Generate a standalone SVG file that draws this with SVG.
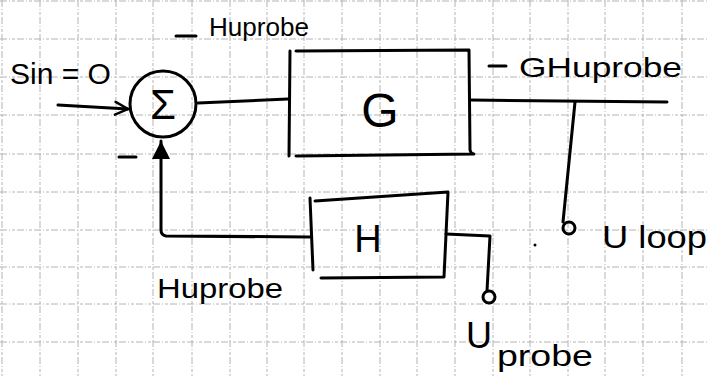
<svg xmlns="http://www.w3.org/2000/svg" width="709" height="376" viewBox="0 0 709 376">
<style>
.grid line{stroke:#b4b4b4;stroke-width:1;stroke-dasharray:7 2 1 2 3 2}
.ink{fill:none;stroke:#000;stroke-width:3;stroke-linecap:round;stroke-linejoin:round}
.txt{font-family:"Liberation Sans",Arial,sans-serif;fill:#000}
</style>
<defs>
<marker id="open" viewBox="0 0 20 20" refX="18" refY="10" markerWidth="16" markerHeight="16" markerUnits="userSpaceOnUse" orient="auto">
<path d="M2,2 L18,10 L2,18" fill="none" stroke="#000" stroke-width="3" stroke-linecap="round"/>
</marker>
<marker id="solid" viewBox="0 0 20 20" refX="18" refY="10" markerWidth="20" markerHeight="20" markerUnits="userSpaceOnUse" orient="auto">
<path d="M0,1 L18,10 L0,19 Z" fill="#000"/>
</marker>
</defs>
<rect width="709" height="376" fill="#fff"/>
<g class="grid">
<line x1="2" y1="0" x2="2" y2="376"/><line x1="40" y1="0" x2="40" y2="376"/><line x1="78" y1="0" x2="78" y2="376"/><line x1="116" y1="0" x2="116" y2="376"/><line x1="153" y1="0" x2="153" y2="376"/><line x1="192" y1="0" x2="192" y2="376"/><line x1="230" y1="0" x2="230" y2="376"/><line x1="267" y1="0" x2="267" y2="376"/><line x1="304" y1="0" x2="304" y2="376"/><line x1="342" y1="0" x2="342" y2="376"/><line x1="380" y1="0" x2="380" y2="376"/><line x1="417" y1="0" x2="417" y2="376"/><line x1="455" y1="0" x2="455" y2="376"/><line x1="493" y1="0" x2="493" y2="376"/><line x1="530" y1="0" x2="530" y2="376"/><line x1="568" y1="0" x2="568" y2="376"/><line x1="605" y1="0" x2="605" y2="376"/><line x1="643" y1="0" x2="643" y2="376"/><line x1="682" y1="0" x2="682" y2="376"/>
<line x1="0" y1="1" x2="709" y2="1"/><line x1="0" y1="39" x2="709" y2="39"/><line x1="0" y1="77" x2="709" y2="77"/><line x1="0" y1="115" x2="709" y2="115"/><line x1="0" y1="154" x2="709" y2="154"/><line x1="0" y1="192" x2="709" y2="192"/><line x1="0" y1="230" x2="709" y2="230"/><line x1="0" y1="267" x2="709" y2="267"/><line x1="0" y1="304" x2="709" y2="304"/><line x1="0" y1="342" x2="709" y2="342"/>
</g>
<g id="connectors">
<path class="ink" d="M58,105 L128,109" marker-end="url(#open)"/>
<path class="ink" d="M310,237 L166,236 Q161,235 161,230 L161,141" marker-end="url(#solid)"/>
<path class="ink" d="M198,103 L288,99"/>
<path class="ink" d="M471,100 L667,102"/>
<path class="ink" d="M575,102 L563,222"/>
<path class="ink" d="M446,234 L490,236 L487,291"/>
</g>
<g id="sum">
<circle class="ink" cx="163" cy="104" r="33"/>
<text class="txt" x="163" y="119" font-size="42" text-anchor="middle">Σ</text>
<line class="ink" x1="119" y1="157" x2="136" y2="157"/>
</g>
<g id="G">
<path class="ink" d="M290,51 L289,156"/>
<path class="ink" d="M296,51 L469,50 L470,150 Q471,154 474,154 L296,156"/>
<text class="txt" x="380" y="127" font-size="48" text-anchor="middle">G</text>
</g>
<g id="H">
<path class="ink" d="M310,198 L313,270"/>
<path class="ink" d="M315,201 L448,192 L444,277 L321,278"/>
<text class="txt" x="368" y="252" font-size="38" text-anchor="middle">H</text>
</g>
<g id="uloop">
<circle class="ink" cx="569" cy="228" r="6"/>
<circle cx="535" cy="245" r="1.5" fill="#000"/>
<text class="txt" x="602" y="248" font-size="32" textLength="105" lengthAdjust="spacingAndGlyphs">U loop</text>
</g>
<g id="uprobe">
<circle class="ink" cx="489" cy="297" r="6"/>
<text class="txt" x="466" y="348" font-size="36">U</text>
<text class="txt" x="497" y="366" font-size="30" textLength="96" lengthAdjust="spacingAndGlyphs">probe</text>
</g>
<g id="labels">
<text class="txt" x="10" y="84" font-size="30">Sin = O</text>
<line class="ink" x1="176" y1="36" x2="196" y2="36"/>
<text class="txt" x="209" y="36" font-size="26" textLength="100" lengthAdjust="spacingAndGlyphs">Huprobe</text>
<line class="ink" x1="489" y1="66" x2="506" y2="66"/>
<text class="txt" x="519" y="77" font-size="28" textLength="163" lengthAdjust="spacingAndGlyphs">GHuprobe</text>
<text class="txt" x="157" y="298" font-size="28" textLength="126" lengthAdjust="spacingAndGlyphs">Huprobe</text>
</g>
</svg>
